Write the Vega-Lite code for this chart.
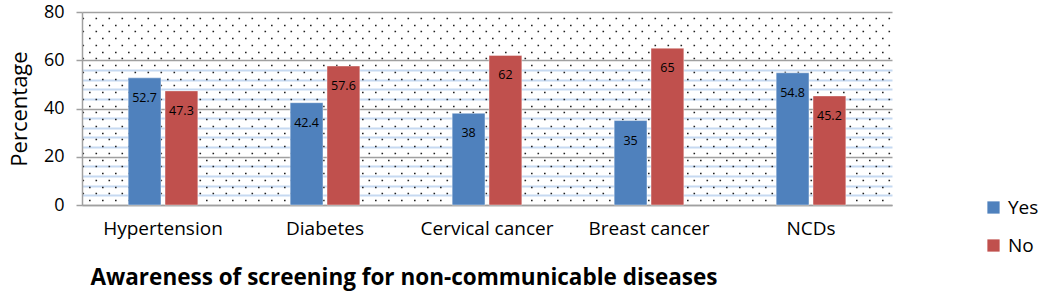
{
  "$schema": "https://vega.github.io/schema/vega-lite/v6.json",
  "width": 810,
  "height": 193,
  "autosize": "none",
  "padding": {"left": 82, "top": 12, "right": 148, "bottom": 98},
  "background": "white",
  "config": {
    "view": {"stroke": null},
    "font": "Open Sans",
    "axis": {"labelFont": "Open Sans", "titleFont": "Open Sans"},
    "legend": {"labelFont": "Open Sans"}
  },
  "data": {
    "values": [
      {"disease": "Hypertension", "answer": "Yes", "value": 52.7, "major": true},
      {"disease": "Hypertension", "answer": "No", "value": 47.3, "major": false},
      {"disease": "Diabetes", "answer": "Yes", "value": 42.4, "major": false},
      {"disease": "Diabetes", "answer": "No", "value": 57.6, "major": true},
      {"disease": "Cervical cancer", "answer": "Yes", "value": 38, "major": false},
      {"disease": "Cervical cancer", "answer": "No", "value": 62, "major": true},
      {"disease": "Breast cancer", "answer": "Yes", "value": 35, "major": false},
      {"disease": "Breast cancer", "answer": "No", "value": 65, "major": true},
      {"disease": "NCDs", "answer": "Yes", "value": 54.8, "major": true},
      {"disease": "NCDs", "answer": "No", "value": 45.2, "major": false}
    ]
  },
  "encoding": {
    "x": {
      "field": "disease",
      "type": "nominal",
      "sort": null,
      "scale": {"paddingInner": 0.57, "paddingOuter": 0.285},
      "axis": {
        "title": "Awareness of screening for non-communicable diseases",
        "titleFontSize": 22.5,
        "titleFontWeight": "bold",
        "titleColor": "#000000",
        "titleAnchor": "start",
        "titleAlign": "left",
        "titleX": 8,
        "titlePadding": 28,
        "labelAngle": 0,
        "labelFontSize": 19,
        "labelColor": "#000000",
        "labelPadding": 14,
        "ticks": false,
        "domainColor": "#a0a0a0",
        "domainWidth": 1.5,
        "grid": false
      }
    }
  },
  "resolve": {"axis": {"y": "independent"}},
  "layer": [
    {
      "mark": {"type": "rule", "opacity": 0},
      "encoding": {
        "y": {
          "field": "value", "type": "quantitative",
          "scale": {"domain": [0, 80]},
          "axis": {
            "orient": "left", "title": null, "labels": false, "ticks": false, "domain": false,
            "grid": true, "gridColor": "#c6d9f1", "gridWidth": 2,
            "values": [4, 8, 12, 16, 24, 28, 32, 36, 44, 48, 52, 56]
          }
        }
      }
    },
    {
      "mark": {"type": "rule", "opacity": 0},
      "encoding": {
        "y": {
          "field": "value", "type": "quantitative",
          "scale": {"domain": [0, 80]},
          "axis": {
            "orient": "left", "title": null, "labels": false, "ticks": false, "domain": false,
            "grid": true, "gridColor": "#202020", "gridWidth": 1.6, "gridDash": [1.6, 11.4],
            "values": [77.6, 72, 66.4, 60.8, 55.2, 49.6, 44, 38.4, 32.8, 27.2, 21.6, 16, 10.4, 4.8]
          }
        }
      }
    },
    {
      "mark": {"type": "rule", "opacity": 0},
      "encoding": {
        "y": {
          "field": "value", "type": "quantitative",
          "scale": {"domain": [0, 80]},
          "axis": {
            "orient": "left", "title": null, "labels": false, "ticks": false, "domain": false,
            "grid": true, "gridColor": "#202020", "gridWidth": 1.6, "gridDash": [1.6, 11.4], "gridDashOffset": 6.5,
            "values": [74.8, 69.2, 63.6, 58, 52.4, 46.8, 41.2, 35.6, 30, 24.4, 18.8, 13.2, 7.6, 2]
          }
        }
      }
    },
    {
      "mark": {"type": "bar", "stroke": "#ffffff", "strokeOpacity": 0.5, "strokeWidth": 0.8},
      "encoding": {
        "xOffset": {"field": "answer", "type": "nominal", "sort": ["Yes", "No"], "scale": {"paddingInner": 0.11}},
        "y": {
          "field": "value", "type": "quantitative",
          "scale": {"domain": [0, 80]},
          "axis": {
            "orient": "left",
            "values": [0, 20, 40, 60, 80],
            "title": "Percentage",
            "titleFontSize": 22,
            "titleFontWeight": "normal",
            "titleColor": "#000000",
            "titlePadding": 12,
            "labelFontSize": 18,
            "labelColor": "#000000",
            "labelPadding": 12,
            "tickSize": 6,
            "tickColor": "#a0a0a0",
            "tickWidth": 1.5,
            "domainColor": "#a0a0a0",
            "domainWidth": 1.5,
            "grid": true,
            "gridColor": "#a0a0a0",
            "gridWidth": 1.5
          }
        },
        "color": {
          "field": "answer", "type": "nominal",
          "sort": ["Yes", "No"],
          "scale": {"domain": ["Yes", "No"], "range": ["#4f81bd", "#c0504d"]},
          "legend": {
            "title": null,
            "orient": "none",
            "legendX": 902,
            "legendY": 186,
            "padding": 0,
            "symbolType": "square",
            "symbolSize": 150,
            "symbolStrokeWidth": 0,
            "labelFontSize": 19,
            "labelColor": "#000000",
            "labelOffset": 5,
            "rowPadding": 18
          }
        }
      }
    },
    {
      "mark": {"type": "text", "baseline": "middle", "dy": 20, "fontSize": 12.5, "color": "#000000"},
      "encoding": {
        "xOffset": {"field": "answer", "type": "nominal", "sort": ["Yes", "No"], "scale": {"paddingInner": 0.11}},
        "y": {"field": "value", "type": "quantitative", "scale": {"domain": [0, 80]}, "axis": null},
        "text": {"field": "value", "type": "quantitative"},
        "fontWeight": {"condition": {"test": "datum.major", "value": "bold"}, "value": "normal"}
      }
    }
  ]
}
